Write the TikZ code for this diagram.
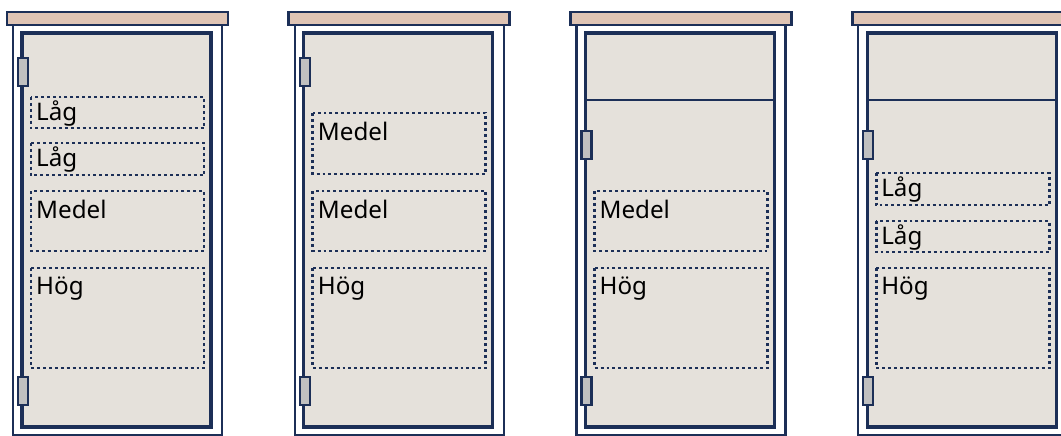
\documentclass[tikz,border=0pt]{standalone}
\usepackage{fontspec}
\setmainfont{Noto Sans}
\definecolor{navy}{HTML}{1C2F57}
\definecolor{capfill}{HTML}{DFC4B4}
\definecolor{doorfill}{HTML}{E5E1DB}
\definecolor{hingefill}{HTML}{C0C0C0}
\tikzset{
  framebox/.style={draw=navy, fill=white, line width=2.3pt},
  capbox/.style={draw=navy, fill=capfill, line width=2.8pt},
  doorbox/.style={draw=navy, fill=doorfill, line width=3.2pt},
  divider/.style={draw=navy, line width=2.8pt},
  hingebox/.style={draw=navy, fill=hingefill, line width=2.3pt},
  slotbox/.style={draw=navy, line width=2.9pt, dash pattern=on 2.9pt off 3pt},
  lbl/.style={anchor=base west, inner sep=0pt, text=black, font=\fontsize{24.2}{29}\selectfont},
}
% #1 shift
\newcommand{\cabbody}[1]{%
  \draw[framebox] (13+#1,25) rectangle (222+#1,435);
  \draw[capbox] (7+#1,12) rectangle (228+#1,25);
  \draw[doorbox] (22+#1,33) rectangle (211+#1,427);
}
% #1 shift, #2 top y
\newcommand{\hinge}[2]{%
  \draw[hingebox] (18+#1,#2) rectangle (28+#1,#2+28);
}
% #1 name, #2 shift, #3 top, #4 bottom, #5 baseline offset, #6 label
\newcommand{\slot}[6]{%
  \draw[slotbox] (31+#2,#3) rectangle (204+#2,#4);
  \node[lbl] (#1) at (36+#2,#3+#5) {#6};
}
\begin{document}
\begin{tikzpicture}[x=1pt,y=-1pt]
\useasboundingbox (0,0) rectangle (1061,436);
\clip (0,0) rectangle (1061,436);
% cabinet 1
\cabbody{0}
\hinge{0}{58}
\hinge{0}{377}
\slot{a1}{0}{97}{128}{23.3}{Låg}
\slot{a2}{0}{143}{175}{23.3}{Låg}
\slot{a3}{0}{191}{251}{27.6}{Medel}
\slot{a4}{0}{268}{368}{26.5}{Hög}
% cabinet 2
\cabbody{281.7}
\hinge{281.7}{58}
\hinge{281.7}{377}
\slot{b1}{281.7}{113}{174}{27.6}{Medel}
\slot{b2}{281.7}{191}{251}{27.6}{Medel}
\slot{b3}{281.7}{268}{368}{26.5}{Hög}
% cabinet 3
\cabbody{563.4}
\draw[divider] (22+563.4,100) -- (211+563.4,100);
\hinge{563.4}{131}
\hinge{563.4}{377}
\slot{c1}{563.4}{191}{251}{27.6}{Medel}
\slot{c2}{563.4}{268}{368}{26.5}{Hög}
% cabinet 4
\cabbody{845.1}
\draw[divider] (22+845.1,100) -- (211+845.1,100);
\hinge{845.1}{131}
\hinge{845.1}{377}
\slot{d1}{845.1}{173}{205}{23.3}{Låg}
\slot{d2}{845.1}{221}{252}{23.3}{Låg}
\slot{d3}{845.1}{268}{368}{26.5}{Hög}
\end{tikzpicture}
\end{document}
